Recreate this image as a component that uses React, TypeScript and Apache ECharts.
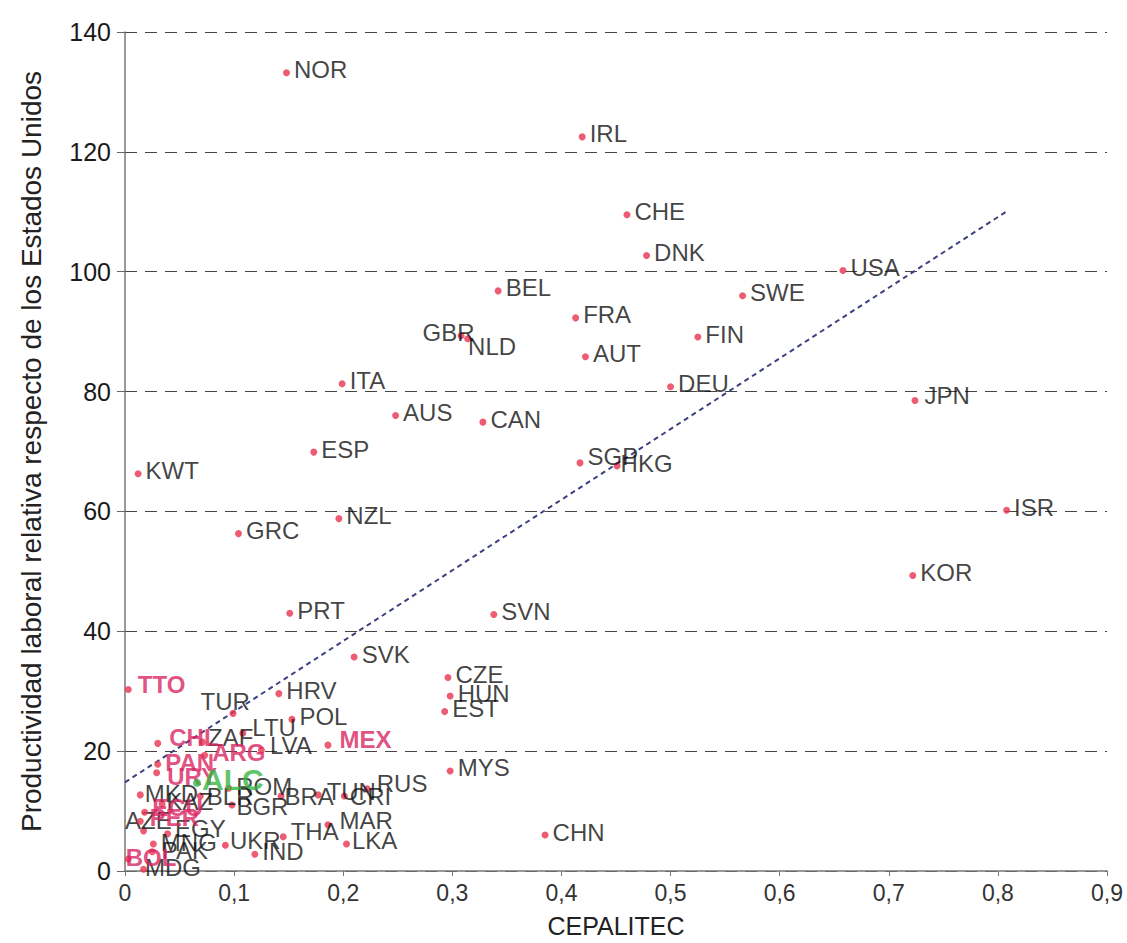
import React, { useEffect, useRef } from "react";
import * as echarts from "echarts";

// Countries outside Latin America (black labels)
const otherNames = ["NOR","IRL","CHE","DNK","USA","BEL","SWE","FRA","FIN","GBR","NLD","AUT","DEU","ITA","JPN","AUS","CAN","ESP","SGP","HKG","KWT","ISR","NZL","GRC","KOR","PRT","SVN","SVK","CZE","HUN","EST","HRV","TUR","POL","LTU","ZAF","LVA","MYS","ROM","BRA","TUN","CRI","RUS","MKD","KAZ","BLR","BGR","AZE","EGY","MNG","PAK","UKR","IND","MDG","THA","MAR","LKA","CHN"];
const otherX = [0.148,0.419,0.460,0.478,0.658,0.342,0.566,0.413,0.525,0.308,0.314,0.422,0.500,0.199,0.724,0.248,0.328,0.173,0.417,0.451,0.012,0.808,0.196,0.104,0.722,0.151,0.338,0.210,0.296,0.298,0.293,0.141,0.099,0.153,0.108,0.071,0.125,0.298,0.095,0.143,0.177,0.201,0.222,0.014,0.034,0.069,0.098,0.017,0.039,0.026,0.025,0.092,0.119,0.017,0.145,0.186,0.203,0.385];
const otherY = [133.2,122.5,109.5,102.7,100.2,96.8,96.0,92.3,89.1,89.3,88.8,85.8,80.8,81.3,78.5,76.0,74.9,69.9,68.1,67.6,66.3,60.2,58.8,56.3,49.3,43.0,42.8,35.7,32.3,29.2,26.6,29.6,26.3,25.3,23.0,21.5,20.2,16.7,13.8,12.5,12.7,12.5,13.7,12.7,11.2,12.5,11.0,6.7,6.2,4.5,3.2,4.3,2.8,0.3,5.7,7.7,4.5,6.0];

// Latin American countries (pink labels)
const latamNames = ["TTO","CHL","ARG","PAN","URY","MEX","ECU","PER","BOL"];
const latamX = [0.003,0.030,0.073,0.030,0.029,0.186,0.018,0.014,0.003];
const latamY = [30.3,21.3,19.3,17.8,16.4,21.0,9.8,8.3,2.0];

// Regional aggregate (green)
const regionNames = ["ALC"];
const regionX = [0.066];
const regionY = [14.7];

// Trend line
const trendX = [0, 0.81];
const trendY = [14.8, 110.3];

const xTickLabels = ["0","0,1","0,2","0,3","0,4","0,5","0,6","0,7","0,8","0,9"];

// label placement nudges (px)
const labelNudge: Record<string, [number, number]> = {
  GBR: [-46, -3], NLD: [-7, 8], SGP: [0, -6], HKG: [-4, -2], TUR: [-40, -12], JPN: [2, -5],
  MKD: [-3, -1], KAZ: [-3, -2], BLR: [-1, 0], BGR: [-3, 1], ROM: [0, -2], BRA: [-4, 0],
  TUN: [1, -3], CRI: [-2, 0], RUS: [2, -5], AZE: [-26, -10], EGY: [0, -5], MNG: [0, -2],
  PAK: [2, -1], UKR: [-3, -5], IND: [0, -3], MDG: [-6, -2], THA: [0, -5], MAR: [4, -4],
  LKA: [-2, -4], TTO: [2, -5], CHL: [4, -6], ARG: [0, -3], PAN: [0, -2], URY: [3, 4],
  MEX: [4, -6], ECU: [0, -5], PER: [2, -4], BOL: [-10, -2], ALC: [-3, -3], LTU: [2, -6],
  ZAF: [-2, -5], LVA: [1, -4],
};

const FONT = "Liberation Sans, Arial, sans-serif";
const DOT = "#e8334f";

function buildData(names: string[], xs: number[], ys: number[]) {
  return names.map((n, i) => ({
    name: n,
    value: [xs[i], ys[i]],
    label: { offset: labelNudge[n] || [0, -3] },
  }));
}

export default function App() {
  const ref = useRef<HTMLDivElement>(null);
  useEffect(() => {
    if (!ref.current) return;
    const chart = echarts.init(ref.current, undefined, { renderer: "svg" });
    chart.setOption({
      animation: false,
      backgroundColor: "#ffffff",
      grid: { left: 125, right: 20, top: 32, bottom: 71 },
      xAxis: {
        type: "value",
        min: 0,
        max: 0.9,
        interval: 0.1,
        name: "CEPALITEC",
        nameLocation: "middle",
        nameGap: 42,
        nameTextStyle: { fontFamily: FONT, fontSize: 25, color: "#222" },
        axisLine: { show: true, lineStyle: { color: "#777", width: 1.5 } },
        axisTick: { show: true, length: 5, lineStyle: { color: "#777" } },
        axisLabel: {
          margin: 10,
          fontFamily: FONT,
          fontSize: 23,
          color: "#333",
          formatter: (v: number) => xTickLabels[Math.round(v * 10)] ?? "",
        },
        splitLine: { show: false },
      },
      yAxis: {
        type: "value",
        min: 0,
        max: 140,
        interval: 20,
        name: "Productividad laboral relativa respecto de los Estados Unidos",
        nameLocation: "middle",
        nameGap: 80,
        nameTextStyle: { fontFamily: FONT, fontSize: 28, color: "#222" },
        axisLine: { show: true, lineStyle: { color: "#777", width: 1.5 } },
        axisTick: { show: true, length: 8, lineStyle: { color: "#666" } },
        axisLabel: { margin: 14, fontFamily: FONT, fontSize: 25, color: "#1a1a1a" },
        splitLine: { show: true, lineStyle: { color: "#444", width: 1.1, type: [12, 8] } },
      },
      series: [
        {
          type: "line",
          data: trendX.map((x, i) => [x, trendY[i]]),
          showSymbol: false,
          symbol: "none",
          lineStyle: { color: "#3d4180", width: 2, type: [5, 4] },
          silent: true,
          z: 1,
        },
        {
          type: "scatter",
          symbolSize: 7,
          itemStyle: { color: DOT },
          data: buildData(otherNames, otherX, otherY),
          label: {
            show: true,
            position: "right",
            distance: 4,
            formatter: "{b}",
            fontFamily: FONT,
            fontSize: 24,
            color: "#111",
          },
          z: 3,
        },
        {
          type: "scatter",
          symbolSize: 7,
          itemStyle: { color: DOT },
          data: buildData(latamNames, latamX, latamY),
          label: {
            show: true,
            position: "right",
            distance: 4,
            formatter: "{b}",
            fontFamily: FONT,
            fontSize: 24,
            fontWeight: "bold",
            color: "#d9235f",
          },
          z: 4,
        },
        {
          type: "scatter",
          symbolSize: 8,
          itemStyle: { color: "#36b544" },
          data: buildData(regionNames, regionX, regionY),
          label: {
            show: true,
            position: "right",
            distance: 4,
            formatter: "{b}",
            fontFamily: FONT,
            fontSize: 30,
            fontWeight: "bold",
            color: "#36b544",
          },
          z: 10,
        },
      ],
    });
    return () => chart.dispose();
  }, []);
  return (
    <div
      ref={ref}
      style={{ position: "absolute", left: 0, top: 0, width: 1127, height: 943, background: "#fff" }}
    />
  );
}
